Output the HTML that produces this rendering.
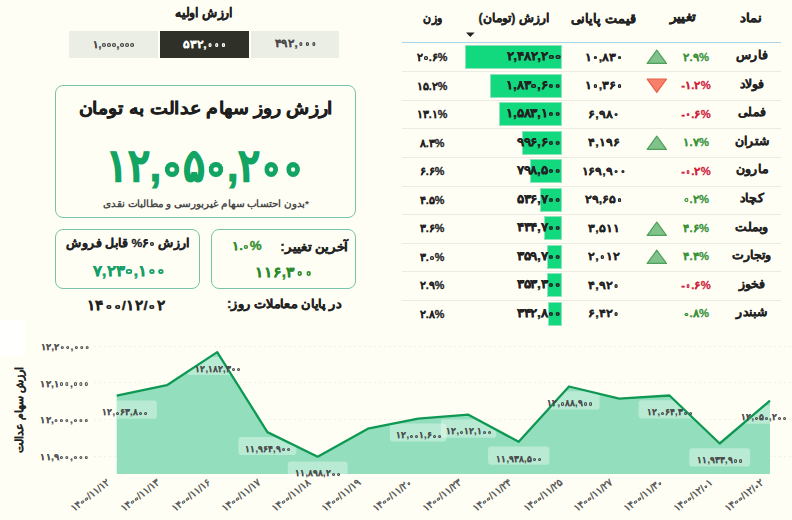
<!DOCTYPE html>
<html lang="fa"><head><meta charset="utf-8"><title>سهام عدالت</title>
<style>
*{margin:0;padding:0;box-sizing:border-box}
html,body{width:792px;height:520px;overflow:hidden;background:#fffef5;font-family:"Liberation Sans",sans-serif;color:#222}
.a{position:absolute}
.t{position:absolute;white-space:nowrap;text-align:center;transform-origin:50% 0}
.card{position:absolute;border:1px solid #77c4aa;border-radius:8px}
.z{-webkit-text-fill-color:transparent;-webkit-text-stroke-width:0;position:relative}
.z::after{content:"";position:absolute;left:50%;top:58%;width:.34em;height:.34em;margin-left:-.17em;margin-top:-.17em;box-shadow:inset 0 0 0 .115em currentColor;border-radius:50%}
</style></head>
<body>
<div class="a" style="left:0;top:320px;width:25px;height:36px;background:#fffffd"></div>
<div class="a" style="left:69px;top:31px;width:89px;height:27px;background:#eaeee5"></div>
<div class="a" style="left:160px;top:31px;width:89px;height:27px;background:#2f3128"></div>
<div class="a" style="left:251px;top:31px;width:88px;height:27px;background:#eaeee5"></div>
<div class="card" style="left:55px;top:85px;width:301px;height:133px"></div>
<div class="card" style="left:55px;top:229px;width:145px;height:60px"></div>
<div class="card" style="left:211px;top:229px;width:145px;height:60px"></div>
<div id="t_init" class="t" dir="rtl" style="left:3.74px;top:5.67px;width:400px;font-size:12.60px;line-height:15.75px;font-weight:bold;color:#222;-webkit-text-stroke:0.31px #222;transform:scaleX(0.9576)">ارزش اولیه</div>
<div id="t_s1" class="t" style="left:-85.55px;top:37.77px;width:400px;font-size:10.40px;line-height:13.00px;font-weight:bold;color:#4a4a4a;-webkit-text-stroke:0.26px #4a4a4a;transform:scaleX(1.0057)"><span style="letter-spacing:-0.215em">۱</span><span style="letter-spacing:-0.019em">,</span><span class="z" style="letter-spacing:-0.075em">۰</span><span class="z" style="letter-spacing:-0.075em">۰</span><span class="z" style="letter-spacing:-0.075em">۰</span><span style="letter-spacing:-0.019em">,</span><span class="z" style="letter-spacing:-0.075em">۰</span><span class="z" style="letter-spacing:-0.075em">۰</span><span class="z" style="letter-spacing:-0.075em">۰</span></div>
<div id="t_s2" class="t" style="left:5.41px;top:38.01px;width:400px;font-size:10.81px;line-height:13.52px;font-weight:bold;color:#fff;-webkit-text-stroke:0.27px #fff;transform:scaleX(1.1200)"><span style="letter-spacing:0.102em">۵</span><span style="letter-spacing:0.175em">۳</span><span style="letter-spacing:0.032em">۲</span><span style="letter-spacing:-0.019em">,</span><span class="z" style="letter-spacing:-0.075em">۰</span><span class="z" style="letter-spacing:-0.075em">۰</span><span class="z" style="letter-spacing:-0.075em">۰</span></div>
<div id="t_s3" class="t" style="left:95.60px;top:36.77px;width:400px;font-size:10.65px;line-height:13.31px;font-weight:bold;color:#4a4a4a;-webkit-text-stroke:0.27px #4a4a4a;transform:scaleX(1.0831)"><span style="letter-spacing:0.082em">۴</span><span style="letter-spacing:-0.015em">۹</span><span style="letter-spacing:0.032em">۲</span><span style="letter-spacing:-0.019em">,</span><span class="z" style="letter-spacing:-0.075em">۰</span><span class="z" style="letter-spacing:-0.075em">۰</span><span class="z" style="letter-spacing:-0.075em">۰</span></div>
<div id="t_title" class="t" dir="rtl" style="left:6.38px;top:97.71px;width:400px;font-size:17.18px;line-height:21.48px;font-weight:bold;color:#1e1e1e;-webkit-text-stroke:0.43px #1e1e1e;transform:scaleX(1.1152)">ارزش روز سهام عدالت به تومان</div>
<div id="t_big" class="t" style="left:5.19px;top:138.13px;width:400px;font-size:45.01px;line-height:56.26px;font-weight:bold;color:#12a463;-webkit-text-stroke:1.13px #12a463;transform:scaleX(0.9129)"><span style="letter-spacing:-0.215em">۱</span><span style="letter-spacing:0.032em">۲</span><span style="letter-spacing:-0.019em">,</span><span class="z" style="letter-spacing:-0.075em">۰</span><span style="letter-spacing:0.102em">۵</span><span class="z" style="letter-spacing:-0.075em">۰</span><span style="letter-spacing:-0.019em">,</span><span style="letter-spacing:0.032em">۲</span><span class="z" style="letter-spacing:-0.075em">۰</span><span class="z" style="letter-spacing:-0.075em">۰</span></div>
<div id="t_foot" class="t" dir="rtl" style="left:5.52px;top:197.94px;width:400px;font-size:9.60px;line-height:12.00px;font-weight:bold;color:#4a4a4a;-webkit-text-stroke:0.00px #4a4a4a;transform:scaleX(1.0413)">*بدون احتساب سهام غیربورسی و مطالبات نقدی</div>
<div id="t_c1title" class="t" dir="rtl" style="left:-71.80px;top:236.36px;width:400px;font-size:11.66px;line-height:14.58px;font-weight:bold;color:#222;-webkit-text-stroke:0.29px #222;transform:scaleX(1.0423)">ارزش <span style="letter-spacing:-0.006em">۶</span><span class="z" style="letter-spacing:-0.075em">۰</span><span style="letter-spacing:-0.111em">%</span> قابل فروش</div>
<div id="t_c1val" class="t" style="left:-71.40px;top:260.51px;width:400px;font-size:15.21px;line-height:19.01px;font-weight:bold;color:#169f69;-webkit-text-stroke:0.38px #169f69;transform:scaleX(1.1200)"><span style="letter-spacing:0.101em">۷</span><span style="letter-spacing:-0.019em">,</span><span style="letter-spacing:0.032em">۲</span><span style="letter-spacing:0.175em">۳</span><span class="z" style="letter-spacing:-0.075em">۰</span><span style="letter-spacing:-0.019em">,</span><span style="letter-spacing:-0.215em">۱</span><span class="z" style="letter-spacing:-0.075em">۰</span><span class="z" style="letter-spacing:-0.075em">۰</span></div>
<div id="t_c2title" class="t" dir="rtl" style="left:113.85px;top:239.86px;width:400px;font-size:12.08px;line-height:15.10px;font-weight:bold;color:#222;-webkit-text-stroke:0.30px #222;transform:scaleX(1.1200)">آخرین تغییر:</div>
<div id="t_c2pct" class="t" style="left:46.81px;top:239.34px;width:400px;font-size:11.93px;line-height:14.91px;font-weight:bold;color:#2e8f30;-webkit-text-stroke:0.30px #2e8f30;transform:scaleX(1.1200)"><span style="letter-spacing:-0.215em">۱</span><span style="letter-spacing:0.036em">.</span><span class="z" style="letter-spacing:-0.075em">۰</span><span style="letter-spacing:-0.111em">%</span></div>
<div id="t_c2val" class="t" style="left:83.93px;top:264.01px;width:400px;font-size:13.75px;line-height:17.19px;font-weight:bold;color:#2a8c2c;-webkit-text-stroke:0.34px #2a8c2c;transform:scaleX(1.1200)"><span style="letter-spacing:-0.215em">۱</span><span style="letter-spacing:-0.215em">۱</span><span style="letter-spacing:-0.006em">۶</span><span style="letter-spacing:-0.019em">,</span><span style="letter-spacing:0.175em">۳</span><span class="z" style="letter-spacing:-0.075em">۰</span><span class="z" style="letter-spacing:-0.075em">۰</span></div>
<div id="t_end" class="t" dir="rtl" style="left:83.62px;top:297.42px;width:400px;font-size:12.40px;line-height:15.50px;font-weight:bold;color:#222;-webkit-text-stroke:0.31px #222;transform:scaleX(1.0713)">در پایان معاملات روز:</div>
<div id="t_date" class="t" style="left:-73.79px;top:297.18px;width:400px;font-size:13.66px;line-height:17.08px;font-weight:bold;color:#222;-webkit-text-stroke:0.34px #222;transform:scaleX(1.1012)"><span style="letter-spacing:-0.215em">۱</span><span style="letter-spacing:0.082em">۴</span><span class="z" style="letter-spacing:-0.075em">۰</span><span class="z" style="letter-spacing:-0.075em">۰</span><span style="letter-spacing:0.113em">/</span><span style="letter-spacing:-0.215em">۱</span><span style="letter-spacing:0.032em">۲</span><span style="letter-spacing:0.113em">/</span><span class="z" style="letter-spacing:-0.075em">۰</span><span style="letter-spacing:0.032em">۲</span></div>
<div id="t_h1" class="t" dir="rtl" style="left:551.11px;top:10.55px;width:400px;font-size:12.40px;line-height:15.50px;font-weight:bold;color:#222;-webkit-text-stroke:0.31px #222;transform:scaleX(1.1189)">نماد</div>
<div id="t_h2" class="t" dir="rtl" style="left:483.15px;top:8.86px;width:400px;font-size:13.00px;line-height:16.25px;font-weight:bold;color:#222;-webkit-text-stroke:0.33px #222;transform:scaleX(1.0514)">تغییر</div>
<div id="t_h3" class="t" dir="rtl" style="left:403.46px;top:10.67px;width:400px;font-size:13.34px;line-height:16.67px;font-weight:bold;color:#222;-webkit-text-stroke:0.33px #222;transform:scaleX(0.9877)">قیمت پایانی</div>
<div id="t_h4" class="t" dir="rtl" style="left:313.61px;top:11.16px;width:400px;font-size:12.10px;line-height:15.13px;font-weight:bold;color:#222;-webkit-text-stroke:0.30px #222;transform:scaleX(1.0193)">ارزش (تومان)</div>
<div id="t_h5" class="t" dir="rtl" style="left:232.65px;top:11.40px;width:400px;font-size:11.84px;line-height:14.80px;font-weight:bold;color:#222;-webkit-text-stroke:0.30px #222;transform:scaleX(0.9060)">وزن</div>
<svg class="a" style="left:464px;top:31px" width="12" height="7"><path d="M2 1.5h8.6l-4.3 4.6z" fill="#222"/></svg>
<div class="a" style="left:402px;top:41.5px;width:379px;height:1.5px;background:#a9d4ea"></div>
<div class="a" style="left:464.50px;top:45.00px;width:97.30px;height:24px;background:#12d87e;border:1px solid #8fe3bd"></div>
<svg class="a" style="left:645px;top:49.40px" width="24" height="16"><path d="M2.2 14.4L11.8 1.2 21.4 14.4z" fill="#7fc28a" stroke="#4ea05a" stroke-width="1.2" stroke-linejoin="round"/></svg>
<div id="t_r_name" class="t" dir="rtl" style="left:551.56px;top:48.33px;width:400px;font-size:11.54px;line-height:14.42px;font-weight:bold;color:#222;-webkit-text-stroke:0.29px #222;transform:scaleX(1.0375)">فارس</div>
<div id="t_r_chg" class="t" style="left:495.91px;top:50.68px;width:400px;font-size:10.60px;line-height:13.25px;font-weight:bold;color:#3a923a;-webkit-text-stroke:0.26px #3a923a;transform:scaleX(1.0618)"><span style="letter-spacing:0.032em">۲</span><span style="letter-spacing:0.036em">.</span><span style="letter-spacing:-0.015em">۹</span><span style="letter-spacing:-0.111em">%</span></div>
<div id="t_r_price" class="t" style="left:403.62px;top:50.54px;width:400px;font-size:11.00px;line-height:13.75px;font-weight:bold;color:#222;-webkit-text-stroke:0.27px #222;transform:scaleX(1.1489)"><span style="letter-spacing:-0.215em">۱</span><span class="z" style="letter-spacing:-0.075em">۰</span><span style="letter-spacing:-0.019em">,</span><span style="letter-spacing:0.101em">۸</span><span style="letter-spacing:0.175em">۳</span><span class="z" style="letter-spacing:-0.075em">۰</span></div>
<div id="t_r_val" class="t" style="left:333.56px;top:49.00px;width:400px;font-size:12.49px;line-height:15.62px;font-weight:bold;color:#222;-webkit-text-stroke:0.31px #222;transform:scaleX(1.1200)"><span style="letter-spacing:0.032em">۲</span><span style="letter-spacing:-0.019em">,</span><span style="letter-spacing:0.082em">۴</span><span style="letter-spacing:0.101em">۸</span><span style="letter-spacing:0.032em">۲</span><span style="letter-spacing:-0.019em">,</span><span style="letter-spacing:0.032em">۲</span><span class="z" style="letter-spacing:-0.075em">۰</span><span class="z" style="letter-spacing:-0.075em">۰</span></div>
<div id="t_r_w" class="t" style="left:232.29px;top:51.03px;width:400px;font-size:10.80px;line-height:13.50px;font-weight:bold;color:#222;-webkit-text-stroke:0.27px #222;transform:scaleX(1.0050)"><span style="letter-spacing:0.032em">۲</span><span class="z" style="letter-spacing:-0.075em">۰</span><span style="letter-spacing:0.036em">.</span><span style="letter-spacing:-0.006em">۶</span><span style="letter-spacing:-0.111em">%</span></div>
<div class="a" style="left:402px;top:71.43px;width:379px;height:1px;background:#ecebe3"></div>
<div class="a" style="left:489.83px;top:73.53px;width:71.97px;height:24px;background:#12d87e;border:1px solid #8fe3bd"></div>
<svg class="a" style="left:645px;top:77.73px" width="24" height="16"><path d="M2.2 1.2L21.4 1.2 11.8 14.4z" fill="#f7806a" stroke="#e8604a" stroke-width="1.2" stroke-linejoin="round"/></svg>
<div class="t" dir="rtl" style="left:551.56px;top:76.86px;width:400px;font-size:11.54px;line-height:14.42px;font-weight:bold;color:#222;-webkit-text-stroke:0.29px #222;transform:scaleX(1.0375)">فولاد</div>
<div class="t" style="left:495.91px;top:79.21px;width:400px;font-size:10.60px;line-height:13.25px;font-weight:bold;color:#d01f3c;-webkit-text-stroke:0.26px #d01f3c;transform:scaleX(1.0618)">-<span style="letter-spacing:-0.215em">۱</span><span style="letter-spacing:0.036em">.</span><span style="letter-spacing:0.032em">۲</span><span style="letter-spacing:-0.111em">%</span></div>
<div class="t" style="left:403.62px;top:79.07px;width:400px;font-size:11.00px;line-height:13.75px;font-weight:bold;color:#222;-webkit-text-stroke:0.27px #222;transform:scaleX(1.1489)"><span style="letter-spacing:-0.215em">۱</span><span class="z" style="letter-spacing:-0.075em">۰</span><span style="letter-spacing:-0.019em">,</span><span style="letter-spacing:0.175em">۳</span><span style="letter-spacing:-0.006em">۶</span><span class="z" style="letter-spacing:-0.075em">۰</span></div>
<div class="t" style="left:161.00px;top:77.53px;width:400px;text-align:right;transform-origin:100% 0;font-size:12.49px;line-height:15.62px;font-weight:bold;color:#222;-webkit-text-stroke:0.31px #222;transform:scaleX(1.1200)"><span style="letter-spacing:-0.215em">۱</span><span style="letter-spacing:-0.019em">,</span><span style="letter-spacing:0.101em">۸</span><span style="letter-spacing:0.175em">۳</span><span class="z" style="letter-spacing:-0.075em">۰</span><span style="letter-spacing:-0.019em">,</span><span style="letter-spacing:-0.006em">۶</span><span class="z" style="letter-spacing:-0.075em">۰</span><span class="z" style="letter-spacing:-0.075em">۰</span></div>
<div class="t" style="left:232.29px;top:79.56px;width:400px;font-size:10.80px;line-height:13.50px;font-weight:bold;color:#222;-webkit-text-stroke:0.27px #222;transform:scaleX(1.0050)"><span style="letter-spacing:-0.215em">۱</span><span style="letter-spacing:0.102em">۵</span><span style="letter-spacing:0.036em">.</span><span style="letter-spacing:0.032em">۲</span><span style="letter-spacing:-0.111em">%</span></div>
<div class="a" style="left:402px;top:99.96px;width:379px;height:1px;background:#ecebe3"></div>
<div class="a" style="left:499.45px;top:102.06px;width:62.35px;height:24px;background:#12d87e;border:1px solid #8fe3bd"></div>
<div class="t" dir="rtl" style="left:551.56px;top:105.39px;width:400px;font-size:11.54px;line-height:14.42px;font-weight:bold;color:#222;-webkit-text-stroke:0.29px #222;transform:scaleX(1.0375)">فملی</div>
<div class="t" style="left:495.91px;top:107.74px;width:400px;font-size:10.60px;line-height:13.25px;font-weight:bold;color:#d01f3c;-webkit-text-stroke:0.26px #d01f3c;transform:scaleX(1.0618)">-<span class="z" style="letter-spacing:-0.075em">۰</span><span style="letter-spacing:0.036em">.</span><span style="letter-spacing:-0.006em">۶</span><span style="letter-spacing:-0.111em">%</span></div>
<div class="t" style="left:403.62px;top:107.60px;width:400px;font-size:11.00px;line-height:13.75px;font-weight:bold;color:#222;-webkit-text-stroke:0.27px #222;transform:scaleX(1.1489)"><span style="letter-spacing:-0.006em">۶</span><span style="letter-spacing:-0.019em">,</span><span style="letter-spacing:-0.015em">۹</span><span style="letter-spacing:0.101em">۸</span><span class="z" style="letter-spacing:-0.075em">۰</span></div>
<div class="t" style="left:161.00px;top:106.06px;width:400px;text-align:right;transform-origin:100% 0;font-size:12.49px;line-height:15.62px;font-weight:bold;color:#222;-webkit-text-stroke:0.31px #222;transform:scaleX(1.1200)"><span style="letter-spacing:-0.215em">۱</span><span style="letter-spacing:-0.019em">,</span><span style="letter-spacing:0.102em">۵</span><span style="letter-spacing:0.101em">۸</span><span style="letter-spacing:0.175em">۳</span><span style="letter-spacing:-0.019em">,</span><span style="letter-spacing:-0.215em">۱</span><span class="z" style="letter-spacing:-0.075em">۰</span><span class="z" style="letter-spacing:-0.075em">۰</span></div>
<div class="t" style="left:232.29px;top:108.09px;width:400px;font-size:10.80px;line-height:13.50px;font-weight:bold;color:#222;-webkit-text-stroke:0.27px #222;transform:scaleX(1.0050)"><span style="letter-spacing:-0.215em">۱</span><span style="letter-spacing:0.175em">۳</span><span style="letter-spacing:0.036em">.</span><span style="letter-spacing:-0.215em">۱</span><span style="letter-spacing:-0.111em">%</span></div>
<div class="a" style="left:402px;top:128.49px;width:379px;height:1px;background:#ecebe3"></div>
<div class="a" style="left:522.26px;top:130.59px;width:39.54px;height:24px;background:#12d87e;border:1px solid #8fe3bd"></div>
<svg class="a" style="left:645px;top:134.99px" width="24" height="16"><path d="M2.2 14.4L11.8 1.2 21.4 14.4z" fill="#7fc28a" stroke="#4ea05a" stroke-width="1.2" stroke-linejoin="round"/></svg>
<div class="t" dir="rtl" style="left:551.56px;top:133.92px;width:400px;font-size:11.54px;line-height:14.42px;font-weight:bold;color:#222;-webkit-text-stroke:0.29px #222;transform:scaleX(1.0375)">شتران</div>
<div class="t" style="left:495.91px;top:136.27px;width:400px;font-size:10.60px;line-height:13.25px;font-weight:bold;color:#3a923a;-webkit-text-stroke:0.26px #3a923a;transform:scaleX(1.0618)"><span style="letter-spacing:-0.215em">۱</span><span style="letter-spacing:0.036em">.</span><span style="letter-spacing:0.101em">۷</span><span style="letter-spacing:-0.111em">%</span></div>
<div class="t" style="left:403.62px;top:136.13px;width:400px;font-size:11.00px;line-height:13.75px;font-weight:bold;color:#222;-webkit-text-stroke:0.27px #222;transform:scaleX(1.1489)"><span style="letter-spacing:0.082em">۴</span><span style="letter-spacing:-0.019em">,</span><span style="letter-spacing:-0.215em">۱</span><span style="letter-spacing:-0.015em">۹</span><span style="letter-spacing:-0.006em">۶</span></div>
<div class="t" style="left:161.00px;top:134.59px;width:400px;text-align:right;transform-origin:100% 0;font-size:12.49px;line-height:15.62px;font-weight:bold;color:#222;-webkit-text-stroke:0.31px #222;transform:scaleX(1.1200)"><span style="letter-spacing:-0.015em">۹</span><span style="letter-spacing:-0.015em">۹</span><span style="letter-spacing:-0.006em">۶</span><span style="letter-spacing:-0.019em">,</span><span style="letter-spacing:-0.006em">۶</span><span class="z" style="letter-spacing:-0.075em">۰</span><span class="z" style="letter-spacing:-0.075em">۰</span></div>
<div class="t" style="left:232.29px;top:136.62px;width:400px;font-size:10.80px;line-height:13.50px;font-weight:bold;color:#222;-webkit-text-stroke:0.27px #222;transform:scaleX(1.0050)"><span style="letter-spacing:0.101em">۸</span><span style="letter-spacing:0.036em">.</span><span style="letter-spacing:0.175em">۳</span><span style="letter-spacing:-0.111em">%</span></div>
<div class="a" style="left:402px;top:157.02px;width:379px;height:1px;background:#ecebe3"></div>
<div class="a" style="left:529.96px;top:159.12px;width:31.84px;height:24px;background:#12d87e;border:1px solid #8fe3bd"></div>
<div class="t" dir="rtl" style="left:551.56px;top:162.45px;width:400px;font-size:11.54px;line-height:14.42px;font-weight:bold;color:#222;-webkit-text-stroke:0.29px #222;transform:scaleX(1.0375)">مارون</div>
<div class="t" style="left:495.91px;top:164.80px;width:400px;font-size:10.60px;line-height:13.25px;font-weight:bold;color:#d01f3c;-webkit-text-stroke:0.26px #d01f3c;transform:scaleX(1.0618)">-<span class="z" style="letter-spacing:-0.075em">۰</span><span style="letter-spacing:0.036em">.</span><span style="letter-spacing:0.032em">۲</span><span style="letter-spacing:-0.111em">%</span></div>
<div class="t" style="left:403.62px;top:164.66px;width:400px;font-size:11.00px;line-height:13.75px;font-weight:bold;color:#222;-webkit-text-stroke:0.27px #222;transform:scaleX(1.1489)"><span style="letter-spacing:-0.215em">۱</span><span style="letter-spacing:-0.006em">۶</span><span style="letter-spacing:-0.015em">۹</span><span style="letter-spacing:-0.019em">,</span><span style="letter-spacing:-0.015em">۹</span><span class="z" style="letter-spacing:-0.075em">۰</span><span class="z" style="letter-spacing:-0.075em">۰</span></div>
<div class="t" style="left:161.00px;top:163.12px;width:400px;text-align:right;transform-origin:100% 0;font-size:12.49px;line-height:15.62px;font-weight:bold;color:#222;-webkit-text-stroke:0.31px #222;transform:scaleX(1.1200)"><span style="letter-spacing:0.101em">۷</span><span style="letter-spacing:-0.015em">۹</span><span style="letter-spacing:0.101em">۸</span><span style="letter-spacing:-0.019em">,</span><span style="letter-spacing:0.102em">۵</span><span class="z" style="letter-spacing:-0.075em">۰</span><span class="z" style="letter-spacing:-0.075em">۰</span></div>
<div class="t" style="left:232.29px;top:165.15px;width:400px;font-size:10.80px;line-height:13.50px;font-weight:bold;color:#222;-webkit-text-stroke:0.27px #222;transform:scaleX(1.0050)"><span style="letter-spacing:-0.006em">۶</span><span style="letter-spacing:0.036em">.</span><span style="letter-spacing:-0.006em">۶</span><span style="letter-spacing:-0.111em">%</span></div>
<div class="a" style="left:402px;top:185.55px;width:379px;height:1px;background:#ecebe3"></div>
<div class="a" style="left:540.13px;top:187.65px;width:21.67px;height:24px;background:#12d87e;border:1px solid #8fe3bd"></div>
<div class="t" dir="rtl" style="left:551.56px;top:190.98px;width:400px;font-size:11.54px;line-height:14.42px;font-weight:bold;color:#222;-webkit-text-stroke:0.29px #222;transform:scaleX(1.0375)">کچاد</div>
<div class="t" style="left:495.91px;top:193.33px;width:400px;font-size:10.60px;line-height:13.25px;font-weight:bold;color:#3a923a;-webkit-text-stroke:0.26px #3a923a;transform:scaleX(1.0618)"><span class="z" style="letter-spacing:-0.075em">۰</span><span style="letter-spacing:0.036em">.</span><span style="letter-spacing:0.032em">۲</span><span style="letter-spacing:-0.111em">%</span></div>
<div class="t" style="left:403.62px;top:193.19px;width:400px;font-size:11.00px;line-height:13.75px;font-weight:bold;color:#222;-webkit-text-stroke:0.27px #222;transform:scaleX(1.1489)"><span style="letter-spacing:0.032em">۲</span><span style="letter-spacing:-0.015em">۹</span><span style="letter-spacing:-0.019em">,</span><span style="letter-spacing:-0.006em">۶</span><span style="letter-spacing:0.102em">۵</span><span class="z" style="letter-spacing:-0.075em">۰</span></div>
<div class="t" style="left:161.00px;top:191.65px;width:400px;text-align:right;transform-origin:100% 0;font-size:12.49px;line-height:15.62px;font-weight:bold;color:#222;-webkit-text-stroke:0.31px #222;transform:scaleX(1.1200)"><span style="letter-spacing:0.102em">۵</span><span style="letter-spacing:0.175em">۳</span><span style="letter-spacing:-0.006em">۶</span><span style="letter-spacing:-0.019em">,</span><span style="letter-spacing:0.101em">۷</span><span class="z" style="letter-spacing:-0.075em">۰</span><span class="z" style="letter-spacing:-0.075em">۰</span></div>
<div class="t" style="left:232.29px;top:193.68px;width:400px;font-size:10.80px;line-height:13.50px;font-weight:bold;color:#222;-webkit-text-stroke:0.27px #222;transform:scaleX(1.0050)"><span style="letter-spacing:0.082em">۴</span><span style="letter-spacing:0.036em">.</span><span style="letter-spacing:0.102em">۵</span><span style="letter-spacing:-0.111em">%</span></div>
<div class="a" style="left:402px;top:214.08px;width:379px;height:1px;background:#ecebe3"></div>
<div class="a" style="left:544.10px;top:216.18px;width:17.70px;height:24px;background:#12d87e;border:1px solid #8fe3bd"></div>
<svg class="a" style="left:645px;top:220.58px" width="24" height="16"><path d="M2.2 14.4L11.8 1.2 21.4 14.4z" fill="#7fc28a" stroke="#4ea05a" stroke-width="1.2" stroke-linejoin="round"/></svg>
<div class="t" dir="rtl" style="left:551.56px;top:219.51px;width:400px;font-size:11.54px;line-height:14.42px;font-weight:bold;color:#222;-webkit-text-stroke:0.29px #222;transform:scaleX(1.0375)">وبملت</div>
<div class="t" style="left:495.91px;top:221.86px;width:400px;font-size:10.60px;line-height:13.25px;font-weight:bold;color:#3a923a;-webkit-text-stroke:0.26px #3a923a;transform:scaleX(1.0618)"><span style="letter-spacing:0.082em">۴</span><span style="letter-spacing:0.036em">.</span><span style="letter-spacing:-0.006em">۶</span><span style="letter-spacing:-0.111em">%</span></div>
<div class="t" style="left:403.62px;top:221.72px;width:400px;font-size:11.00px;line-height:13.75px;font-weight:bold;color:#222;-webkit-text-stroke:0.27px #222;transform:scaleX(1.1489)"><span style="letter-spacing:0.175em">۳</span><span style="letter-spacing:-0.019em">,</span><span style="letter-spacing:0.102em">۵</span><span style="letter-spacing:-0.215em">۱</span><span style="letter-spacing:-0.215em">۱</span></div>
<div class="t" style="left:161.00px;top:220.18px;width:400px;text-align:right;transform-origin:100% 0;font-size:12.49px;line-height:15.62px;font-weight:bold;color:#222;-webkit-text-stroke:0.31px #222;transform:scaleX(1.1200)"><span style="letter-spacing:0.082em">۴</span><span style="letter-spacing:0.175em">۳</span><span style="letter-spacing:0.082em">۴</span><span style="letter-spacing:-0.019em">,</span><span style="letter-spacing:0.101em">۷</span><span class="z" style="letter-spacing:-0.075em">۰</span><span class="z" style="letter-spacing:-0.075em">۰</span></div>
<div class="t" style="left:232.29px;top:222.21px;width:400px;font-size:10.80px;line-height:13.50px;font-weight:bold;color:#222;-webkit-text-stroke:0.27px #222;transform:scaleX(1.0050)"><span style="letter-spacing:0.175em">۳</span><span style="letter-spacing:0.036em">.</span><span style="letter-spacing:-0.006em">۶</span><span style="letter-spacing:-0.111em">%</span></div>
<div class="a" style="left:402px;top:242.61px;width:379px;height:1px;background:#ecebe3"></div>
<div class="a" style="left:547.02px;top:244.71px;width:14.78px;height:24px;background:#12d87e;border:1px solid #8fe3bd"></div>
<svg class="a" style="left:645px;top:249.11px" width="24" height="16"><path d="M2.2 14.4L11.8 1.2 21.4 14.4z" fill="#7fc28a" stroke="#4ea05a" stroke-width="1.2" stroke-linejoin="round"/></svg>
<div class="t" dir="rtl" style="left:551.56px;top:248.04px;width:400px;font-size:11.54px;line-height:14.42px;font-weight:bold;color:#222;-webkit-text-stroke:0.29px #222;transform:scaleX(1.0375)">وتجارت</div>
<div class="t" style="left:495.91px;top:250.39px;width:400px;font-size:10.60px;line-height:13.25px;font-weight:bold;color:#3a923a;-webkit-text-stroke:0.26px #3a923a;transform:scaleX(1.0618)"><span style="letter-spacing:0.082em">۴</span><span style="letter-spacing:0.036em">.</span><span style="letter-spacing:0.082em">۴</span><span style="letter-spacing:-0.111em">%</span></div>
<div class="t" style="left:403.62px;top:250.25px;width:400px;font-size:11.00px;line-height:13.75px;font-weight:bold;color:#222;-webkit-text-stroke:0.27px #222;transform:scaleX(1.1489)"><span style="letter-spacing:0.032em">۲</span><span style="letter-spacing:-0.019em">,</span><span class="z" style="letter-spacing:-0.075em">۰</span><span style="letter-spacing:-0.215em">۱</span><span style="letter-spacing:0.032em">۲</span></div>
<div class="t" style="left:161.00px;top:248.71px;width:400px;text-align:right;transform-origin:100% 0;font-size:12.49px;line-height:15.62px;font-weight:bold;color:#222;-webkit-text-stroke:0.31px #222;transform:scaleX(1.1200)"><span style="letter-spacing:0.175em">۳</span><span style="letter-spacing:0.102em">۵</span><span style="letter-spacing:-0.015em">۹</span><span style="letter-spacing:-0.019em">,</span><span style="letter-spacing:0.101em">۷</span><span class="z" style="letter-spacing:-0.075em">۰</span><span class="z" style="letter-spacing:-0.075em">۰</span></div>
<div class="t" style="left:232.29px;top:250.74px;width:400px;font-size:10.80px;line-height:13.50px;font-weight:bold;color:#222;-webkit-text-stroke:0.27px #222;transform:scaleX(1.0050)"><span style="letter-spacing:0.175em">۳</span><span style="letter-spacing:0.036em">.</span><span class="z" style="letter-spacing:-0.075em">۰</span><span style="letter-spacing:-0.111em">%</span></div>
<div class="a" style="left:402px;top:271.14px;width:379px;height:1px;background:#ecebe3"></div>
<div class="a" style="left:547.26px;top:273.24px;width:14.54px;height:24px;background:#12d87e;border:1px solid #8fe3bd"></div>
<div class="t" dir="rtl" style="left:551.56px;top:276.57px;width:400px;font-size:11.54px;line-height:14.42px;font-weight:bold;color:#222;-webkit-text-stroke:0.29px #222;transform:scaleX(1.0375)">فخوز</div>
<div class="t" style="left:495.91px;top:278.92px;width:400px;font-size:10.60px;line-height:13.25px;font-weight:bold;color:#d01f3c;-webkit-text-stroke:0.26px #d01f3c;transform:scaleX(1.0618)">-<span class="z" style="letter-spacing:-0.075em">۰</span><span style="letter-spacing:0.036em">.</span><span style="letter-spacing:-0.006em">۶</span><span style="letter-spacing:-0.111em">%</span></div>
<div class="t" style="left:403.62px;top:278.78px;width:400px;font-size:11.00px;line-height:13.75px;font-weight:bold;color:#222;-webkit-text-stroke:0.27px #222;transform:scaleX(1.1489)"><span style="letter-spacing:0.082em">۴</span><span style="letter-spacing:-0.019em">,</span><span style="letter-spacing:-0.015em">۹</span><span style="letter-spacing:0.032em">۲</span><span class="z" style="letter-spacing:-0.075em">۰</span></div>
<div class="t" style="left:161.00px;top:277.24px;width:400px;text-align:right;transform-origin:100% 0;font-size:12.49px;line-height:15.62px;font-weight:bold;color:#222;-webkit-text-stroke:0.31px #222;transform:scaleX(1.1200)"><span style="letter-spacing:0.175em">۳</span><span style="letter-spacing:0.102em">۵</span><span style="letter-spacing:0.175em">۳</span><span style="letter-spacing:-0.019em">,</span><span style="letter-spacing:0.175em">۳</span><span class="z" style="letter-spacing:-0.075em">۰</span><span class="z" style="letter-spacing:-0.075em">۰</span></div>
<div class="t" style="left:232.29px;top:279.27px;width:400px;font-size:10.80px;line-height:13.50px;font-weight:bold;color:#222;-webkit-text-stroke:0.27px #222;transform:scaleX(1.0050)"><span style="letter-spacing:0.032em">۲</span><span style="letter-spacing:0.036em">.</span><span style="letter-spacing:-0.015em">۹</span><span style="letter-spacing:-0.111em">%</span></div>
<div class="a" style="left:402px;top:299.67px;width:379px;height:1px;background:#ecebe3"></div>
<div class="a" style="left:547.67px;top:301.77px;width:14.13px;height:24px;background:#12d87e;border:1px solid #8fe3bd"></div>
<div class="t" dir="rtl" style="left:551.56px;top:305.10px;width:400px;font-size:11.54px;line-height:14.42px;font-weight:bold;color:#222;-webkit-text-stroke:0.29px #222;transform:scaleX(1.0375)">شبندر</div>
<div class="t" style="left:495.91px;top:307.45px;width:400px;font-size:10.60px;line-height:13.25px;font-weight:bold;color:#3a923a;-webkit-text-stroke:0.26px #3a923a;transform:scaleX(1.0618)"><span class="z" style="letter-spacing:-0.075em">۰</span><span style="letter-spacing:0.036em">.</span><span style="letter-spacing:0.101em">۸</span><span style="letter-spacing:-0.111em">%</span></div>
<div class="t" style="left:403.62px;top:307.31px;width:400px;font-size:11.00px;line-height:13.75px;font-weight:bold;color:#222;-webkit-text-stroke:0.27px #222;transform:scaleX(1.1489)"><span style="letter-spacing:-0.006em">۶</span><span style="letter-spacing:-0.019em">,</span><span style="letter-spacing:0.082em">۴</span><span style="letter-spacing:0.032em">۲</span><span class="z" style="letter-spacing:-0.075em">۰</span></div>
<div class="t" style="left:161.00px;top:305.77px;width:400px;text-align:right;transform-origin:100% 0;font-size:12.49px;line-height:15.62px;font-weight:bold;color:#222;-webkit-text-stroke:0.31px #222;transform:scaleX(1.1200)"><span style="letter-spacing:0.175em">۳</span><span style="letter-spacing:0.082em">۴</span><span style="letter-spacing:0.032em">۲</span><span style="letter-spacing:-0.019em">,</span><span style="letter-spacing:0.101em">۸</span><span class="z" style="letter-spacing:-0.075em">۰</span><span class="z" style="letter-spacing:-0.075em">۰</span></div>
<div class="t" style="left:232.29px;top:307.80px;width:400px;font-size:10.80px;line-height:13.50px;font-weight:bold;color:#222;-webkit-text-stroke:0.27px #222;transform:scaleX(1.0050)"><span style="letter-spacing:0.032em">۲</span><span style="letter-spacing:0.036em">.</span><span style="letter-spacing:0.101em">۸</span><span style="letter-spacing:-0.111em">%</span></div>
<svg class="a" style="left:0;top:0" width="792" height="520">
<line x1="94" x2="792" y1="346.5" y2="346.5" stroke="#f2f1e7" stroke-width="1" stroke-dasharray="2 3"/>
<line x1="94" x2="792" y1="382.5" y2="382.5" stroke="#f2f1e7" stroke-width="1" stroke-dasharray="2 3"/>
<line x1="94" x2="792" y1="419.5" y2="419.5" stroke="#f2f1e7" stroke-width="1" stroke-dasharray="2 3"/>
<line x1="94" x2="792" y1="456.5" y2="456.5" stroke="#f2f1e7" stroke-width="1" stroke-dasharray="2 3"/>
<polygon points="116.7,474 116.7,395.7 166.9,385.2 217.2,352.1 267.4,432.1 317.7,456.7 367.9,428.7 418.2,418.6 468.4,414.7 518.7,441.8 569.0,386.5 619.2,398.6 669.5,395.5 719.7,443.5 770.0,400.7 770.0,474" fill="#93dfbd"/>
<clipPath id="fc2"><polygon points="116.7,474 116.7,395.7 166.9,385.2 217.2,352.1 267.4,432.1 317.7,456.7 367.9,428.7 418.2,418.6 468.4,414.7 518.7,441.8 569.0,386.5 619.2,398.6 669.5,395.5 719.7,443.5 770.0,400.7 770.0,474"/></clipPath>
<g clip-path="url(#fc2)">
<line x1="94" x2="792" y1="346.5" y2="346.5" stroke="#97e0bf" stroke-width="1" stroke-dasharray="2 3"/>
<line x1="94" x2="792" y1="382.5" y2="382.5" stroke="#97e0bf" stroke-width="1" stroke-dasharray="2 3"/>
<line x1="94" x2="792" y1="419.5" y2="419.5" stroke="#97e0bf" stroke-width="1" stroke-dasharray="2 3"/>
<line x1="94" x2="792" y1="456.5" y2="456.5" stroke="#97e0bf" stroke-width="1" stroke-dasharray="2 3"/>
</g>
<clipPath id="fillclip"><polygon points="116.7,474 116.7,395.7 166.9,385.2 217.2,352.1 267.4,432.1 317.7,456.7 367.9,428.7 418.2,418.6 468.4,414.7 518.7,441.8 569.0,386.5 619.2,398.6 669.5,395.5 719.7,443.5 770.0,400.7 770.0,474"/></clipPath>
<g clip-path="url(#fillclip)">
<rect x="95.0" y="400.5" width="61.9" height="18.2" rx="3" fill="#ffffff" fill-opacity="0.35"/>
<rect x="186.7" y="356.9" width="61.0" height="18.2" rx="3" fill="#ffffff" fill-opacity="0.35"/>
<rect x="238.4" y="436.9" width="58.1" height="18.2" rx="3" fill="#ffffff" fill-opacity="0.35"/>
<rect x="287.8" y="461.5" width="59.8" height="18.2" rx="3" fill="#ffffff" fill-opacity="0.35"/>
<rect x="389.9" y="423.4" width="56.5" height="18.2" rx="3" fill="#ffffff" fill-opacity="0.35"/>
<rect x="440.7" y="419.5" width="55.5" height="18.2" rx="3" fill="#ffffff" fill-opacity="0.35"/>
<rect x="488.1" y="446.6" width="61.2" height="18.2" rx="3" fill="#ffffff" fill-opacity="0.35"/>
<rect x="538.4" y="391.3" width="61.2" height="18.2" rx="3" fill="#ffffff" fill-opacity="0.35"/>
<rect x="638.6" y="400.3" width="61.8" height="18.2" rx="3" fill="#ffffff" fill-opacity="0.35"/>
<rect x="689.3" y="448.3" width="60.8" height="18.2" rx="3" fill="#ffffff" fill-opacity="0.35"/>
<rect x="733.0" y="405.5" width="59.9" height="18.2" rx="3" fill="#ffffff" fill-opacity="0.35"/>
</g>
<polyline points="116.7,395.7 166.9,385.2 217.2,352.1 267.4,432.1 317.7,456.7 367.9,428.7 418.2,418.6 468.4,414.7 518.7,441.8 569.0,386.5 619.2,398.6 669.5,395.5 719.7,443.5 770.0,400.7" fill="none" stroke="#0e9853" stroke-width="2.3" stroke-linejoin="round"/>
<text transform="translate(23 410.3) rotate(-90)" text-anchor="middle" font-size="11.4" font-weight="bold" fill="#222" stroke="#222" stroke-width="0.1" direction="rtl">ارزش سهام عدالت</text>
</svg>
<div class="t" style="left:-74.56px;top:407.46px;width:400px;font-size:9.20px;line-height:11.50px;font-weight:bold;color:#4a4a4a;-webkit-text-stroke:0.14px #4a4a4a;transform:scaleX(1.0017)"><span style="letter-spacing:-0.215em">۱</span><span style="letter-spacing:0.032em">۲</span><span style="letter-spacing:-0.019em">,</span><span class="z" style="letter-spacing:-0.075em">۰</span><span style="letter-spacing:-0.006em">۶</span><span style="letter-spacing:0.175em">۳</span><span style="letter-spacing:-0.019em">,</span><span style="letter-spacing:0.101em">۸</span><span class="z" style="letter-spacing:-0.075em">۰</span><span class="z" style="letter-spacing:-0.075em">۰</span></div>
<div class="t" style="left:17.84px;top:363.85px;width:400px;font-size:9.20px;line-height:11.50px;font-weight:bold;color:#4a4a4a;-webkit-text-stroke:0.14px #4a4a4a;transform:scaleX(1.0017)"><span style="letter-spacing:-0.215em">۱</span><span style="letter-spacing:0.032em">۲</span><span style="letter-spacing:-0.019em">,</span><span style="letter-spacing:-0.215em">۱</span><span style="letter-spacing:0.101em">۸</span><span style="letter-spacing:0.032em">۲</span><span style="letter-spacing:-0.019em">,</span><span style="letter-spacing:0.175em">۳</span><span class="z" style="letter-spacing:-0.075em">۰</span><span class="z" style="letter-spacing:-0.075em">۰</span></div>
<div class="t" style="left:68.09px;top:443.85px;width:400px;font-size:9.20px;line-height:11.50px;font-weight:bold;color:#4a4a4a;-webkit-text-stroke:0.14px #4a4a4a;transform:scaleX(1.0017)"><span style="letter-spacing:-0.215em">۱</span><span style="letter-spacing:-0.215em">۱</span><span style="letter-spacing:-0.019em">,</span><span style="letter-spacing:-0.015em">۹</span><span style="letter-spacing:-0.006em">۶</span><span style="letter-spacing:0.082em">۴</span><span style="letter-spacing:-0.019em">,</span><span style="letter-spacing:-0.015em">۹</span><span class="z" style="letter-spacing:-0.075em">۰</span><span class="z" style="letter-spacing:-0.075em">۰</span></div>
<div class="t" style="left:118.34px;top:468.40px;width:400px;font-size:9.20px;line-height:11.50px;font-weight:bold;color:#4a4a4a;-webkit-text-stroke:0.14px #4a4a4a;transform:scaleX(1.0017)"><span style="letter-spacing:-0.215em">۱</span><span style="letter-spacing:-0.215em">۱</span><span style="letter-spacing:-0.019em">,</span><span style="letter-spacing:0.101em">۸</span><span style="letter-spacing:-0.015em">۹</span><span style="letter-spacing:0.101em">۸</span><span style="letter-spacing:-0.019em">,</span><span style="letter-spacing:0.032em">۲</span><span class="z" style="letter-spacing:-0.075em">۰</span><span class="z" style="letter-spacing:-0.075em">۰</span></div>
<div class="t" style="left:218.84px;top:430.35px;width:400px;font-size:9.20px;line-height:11.50px;font-weight:bold;color:#4a4a4a;-webkit-text-stroke:0.14px #4a4a4a;transform:scaleX(1.0017)"><span style="letter-spacing:-0.215em">۱</span><span style="letter-spacing:0.032em">۲</span><span style="letter-spacing:-0.019em">,</span><span class="z" style="letter-spacing:-0.075em">۰</span><span class="z" style="letter-spacing:-0.075em">۰</span><span style="letter-spacing:-0.215em">۱</span><span style="letter-spacing:-0.019em">,</span><span style="letter-spacing:-0.006em">۶</span><span class="z" style="letter-spacing:-0.075em">۰</span><span class="z" style="letter-spacing:-0.075em">۰</span></div>
<div class="t" style="left:269.09px;top:426.48px;width:400px;font-size:9.20px;line-height:11.50px;font-weight:bold;color:#4a4a4a;-webkit-text-stroke:0.14px #4a4a4a;transform:scaleX(1.0017)"><span style="letter-spacing:-0.215em">۱</span><span style="letter-spacing:0.032em">۲</span><span style="letter-spacing:-0.019em">,</span><span class="z" style="letter-spacing:-0.075em">۰</span><span style="letter-spacing:-0.215em">۱</span><span style="letter-spacing:0.032em">۲</span><span style="letter-spacing:-0.019em">,</span><span style="letter-spacing:-0.215em">۱</span><span class="z" style="letter-spacing:-0.075em">۰</span><span class="z" style="letter-spacing:-0.075em">۰</span></div>
<div id="t_dl" class="t" style="left:319.34px;top:453.57px;width:400px;font-size:9.20px;line-height:11.50px;font-weight:bold;color:#4a4a4a;-webkit-text-stroke:0.14px #4a4a4a;transform:scaleX(1.0017)"><span style="letter-spacing:-0.215em">۱</span><span style="letter-spacing:-0.215em">۱</span><span style="letter-spacing:-0.019em">,</span><span style="letter-spacing:-0.015em">۹</span><span style="letter-spacing:0.175em">۳</span><span style="letter-spacing:0.101em">۸</span><span style="letter-spacing:-0.019em">,</span><span style="letter-spacing:0.102em">۵</span><span class="z" style="letter-spacing:-0.075em">۰</span><span class="z" style="letter-spacing:-0.075em">۰</span></div>
<div class="t" style="left:369.59px;top:398.22px;width:400px;font-size:9.20px;line-height:11.50px;font-weight:bold;color:#4a4a4a;-webkit-text-stroke:0.14px #4a4a4a;transform:scaleX(1.0017)"><span style="letter-spacing:-0.215em">۱</span><span style="letter-spacing:0.032em">۲</span><span style="letter-spacing:-0.019em">,</span><span class="z" style="letter-spacing:-0.075em">۰</span><span style="letter-spacing:0.101em">۸</span><span style="letter-spacing:0.101em">۸</span><span style="letter-spacing:-0.019em">,</span><span style="letter-spacing:-0.015em">۹</span><span class="z" style="letter-spacing:-0.075em">۰</span><span class="z" style="letter-spacing:-0.075em">۰</span></div>
<div class="t" style="left:470.09px;top:407.28px;width:400px;font-size:9.20px;line-height:11.50px;font-weight:bold;color:#4a4a4a;-webkit-text-stroke:0.14px #4a4a4a;transform:scaleX(1.0017)"><span style="letter-spacing:-0.215em">۱</span><span style="letter-spacing:0.032em">۲</span><span style="letter-spacing:-0.019em">,</span><span class="z" style="letter-spacing:-0.075em">۰</span><span style="letter-spacing:-0.006em">۶</span><span style="letter-spacing:0.082em">۴</span><span style="letter-spacing:-0.019em">,</span><span style="letter-spacing:0.175em">۳</span><span class="z" style="letter-spacing:-0.075em">۰</span><span class="z" style="letter-spacing:-0.075em">۰</span></div>
<div class="t" style="left:520.34px;top:455.26px;width:400px;font-size:9.20px;line-height:11.50px;font-weight:bold;color:#4a4a4a;-webkit-text-stroke:0.14px #4a4a4a;transform:scaleX(1.0017)"><span style="letter-spacing:-0.215em">۱</span><span style="letter-spacing:-0.215em">۱</span><span style="letter-spacing:-0.019em">,</span><span style="letter-spacing:-0.015em">۹</span><span style="letter-spacing:0.175em">۳</span><span style="letter-spacing:0.175em">۳</span><span style="letter-spacing:-0.019em">,</span><span style="letter-spacing:-0.015em">۹</span><span class="z" style="letter-spacing:-0.075em">۰</span><span class="z" style="letter-spacing:-0.075em">۰</span></div>
<div class="t" style="left:563.64px;top:412.46px;width:400px;font-size:9.20px;line-height:11.50px;font-weight:bold;color:#4a4a4a;-webkit-text-stroke:0.14px #4a4a4a;transform:scaleX(1.0017)"><span style="letter-spacing:-0.215em">۱</span><span style="letter-spacing:0.032em">۲</span><span style="letter-spacing:-0.019em">,</span><span class="z" style="letter-spacing:-0.075em">۰</span><span style="letter-spacing:0.102em">۵</span><span class="z" style="letter-spacing:-0.075em">۰</span><span style="letter-spacing:-0.019em">,</span><span style="letter-spacing:0.032em">۲</span><span class="z" style="letter-spacing:-0.075em">۰</span><span class="z" style="letter-spacing:-0.075em">۰</span></div>
<div id="t_y1" class="t" style="left:-134.99px;top:340.80px;width:400px;font-size:9.40px;line-height:11.75px;font-weight:bold;color:#555;-webkit-text-stroke:0.24px #555;transform:scaleX(1.0815)"><span style="letter-spacing:-0.215em">۱</span><span style="letter-spacing:0.032em">۲</span><span style="letter-spacing:-0.019em">,</span><span style="letter-spacing:0.032em">۲</span><span class="z" style="letter-spacing:-0.075em">۰</span><span class="z" style="letter-spacing:-0.075em">۰</span><span style="letter-spacing:-0.019em">,</span><span class="z" style="letter-spacing:-0.075em">۰</span><span class="z" style="letter-spacing:-0.075em">۰</span><span class="z" style="letter-spacing:-0.075em">۰</span></div>
<div class="t" style="left:-311.00px;top:377.60px;width:400px;text-align:right;transform-origin:100% 0;font-size:9.40px;line-height:11.75px;font-weight:bold;color:#555;-webkit-text-stroke:0.24px #555;transform:scaleX(1.0815)"><span style="letter-spacing:-0.215em">۱</span><span style="letter-spacing:0.032em">۲</span><span style="letter-spacing:-0.019em">,</span><span style="letter-spacing:-0.215em">۱</span><span class="z" style="letter-spacing:-0.075em">۰</span><span class="z" style="letter-spacing:-0.075em">۰</span><span style="letter-spacing:-0.019em">,</span><span class="z" style="letter-spacing:-0.075em">۰</span><span class="z" style="letter-spacing:-0.075em">۰</span><span class="z" style="letter-spacing:-0.075em">۰</span></div>
<div class="t" style="left:-311.00px;top:414.40px;width:400px;text-align:right;transform-origin:100% 0;font-size:9.40px;line-height:11.75px;font-weight:bold;color:#555;-webkit-text-stroke:0.24px #555;transform:scaleX(1.0815)"><span style="letter-spacing:-0.215em">۱</span><span style="letter-spacing:0.032em">۲</span><span style="letter-spacing:-0.019em">,</span><span class="z" style="letter-spacing:-0.075em">۰</span><span class="z" style="letter-spacing:-0.075em">۰</span><span class="z" style="letter-spacing:-0.075em">۰</span><span style="letter-spacing:-0.019em">,</span><span class="z" style="letter-spacing:-0.075em">۰</span><span class="z" style="letter-spacing:-0.075em">۰</span><span class="z" style="letter-spacing:-0.075em">۰</span></div>
<div class="t" style="left:-311.00px;top:451.20px;width:400px;text-align:right;transform-origin:100% 0;font-size:9.40px;line-height:11.75px;font-weight:bold;color:#555;-webkit-text-stroke:0.24px #555;transform:scaleX(1.0815)"><span style="letter-spacing:-0.215em">۱</span><span style="letter-spacing:-0.215em">۱</span><span style="letter-spacing:-0.019em">,</span><span style="letter-spacing:-0.015em">۹</span><span class="z" style="letter-spacing:-0.075em">۰</span><span class="z" style="letter-spacing:-0.075em">۰</span><span style="letter-spacing:-0.019em">,</span><span class="z" style="letter-spacing:-0.075em">۰</span><span class="z" style="letter-spacing:-0.075em">۰</span><span class="z" style="letter-spacing:-0.075em">۰</span></div>
<div class="a" style="left:-188.8px;top:474.5px;width:300px;text-align:right;white-space:nowrap;font-size:10.2px;line-height:12px;font-weight:bold;color:#595959;transform-origin:100% 10px;transform:rotate(-37deg)"><span style="letter-spacing:-0.215em">۱</span><span style="letter-spacing:0.082em">۴</span><span class="z" style="letter-spacing:-0.075em">۰</span><span class="z" style="letter-spacing:-0.075em">۰</span><span style="letter-spacing:0.113em">/</span><span style="letter-spacing:-0.215em">۱</span><span style="letter-spacing:-0.215em">۱</span><span style="letter-spacing:0.113em">/</span><span style="letter-spacing:-0.215em">۱</span><span style="letter-spacing:0.032em">۲</span></div>
<div class="a" style="left:-138.6px;top:474.5px;width:300px;text-align:right;white-space:nowrap;font-size:10.2px;line-height:12px;font-weight:bold;color:#595959;transform-origin:100% 10px;transform:rotate(-37deg)"><span style="letter-spacing:-0.215em">۱</span><span style="letter-spacing:0.082em">۴</span><span class="z" style="letter-spacing:-0.075em">۰</span><span class="z" style="letter-spacing:-0.075em">۰</span><span style="letter-spacing:0.113em">/</span><span style="letter-spacing:-0.215em">۱</span><span style="letter-spacing:-0.215em">۱</span><span style="letter-spacing:0.113em">/</span><span style="letter-spacing:-0.215em">۱</span><span style="letter-spacing:0.175em">۳</span></div>
<div class="a" style="left:-88.3px;top:474.5px;width:300px;text-align:right;white-space:nowrap;font-size:10.2px;line-height:12px;font-weight:bold;color:#595959;transform-origin:100% 10px;transform:rotate(-37deg)"><span style="letter-spacing:-0.215em">۱</span><span style="letter-spacing:0.082em">۴</span><span class="z" style="letter-spacing:-0.075em">۰</span><span class="z" style="letter-spacing:-0.075em">۰</span><span style="letter-spacing:0.113em">/</span><span style="letter-spacing:-0.215em">۱</span><span style="letter-spacing:-0.215em">۱</span><span style="letter-spacing:0.113em">/</span><span style="letter-spacing:-0.215em">۱</span><span style="letter-spacing:-0.006em">۶</span></div>
<div class="a" style="left:-38.1px;top:474.5px;width:300px;text-align:right;white-space:nowrap;font-size:10.2px;line-height:12px;font-weight:bold;color:#595959;transform-origin:100% 10px;transform:rotate(-37deg)"><span style="letter-spacing:-0.215em">۱</span><span style="letter-spacing:0.082em">۴</span><span class="z" style="letter-spacing:-0.075em">۰</span><span class="z" style="letter-spacing:-0.075em">۰</span><span style="letter-spacing:0.113em">/</span><span style="letter-spacing:-0.215em">۱</span><span style="letter-spacing:-0.215em">۱</span><span style="letter-spacing:0.113em">/</span><span style="letter-spacing:-0.215em">۱</span><span style="letter-spacing:0.101em">۷</span></div>
<div class="a" style="left:12.2px;top:474.5px;width:300px;text-align:right;white-space:nowrap;font-size:10.2px;line-height:12px;font-weight:bold;color:#595959;transform-origin:100% 10px;transform:rotate(-37deg)"><span style="letter-spacing:-0.215em">۱</span><span style="letter-spacing:0.082em">۴</span><span class="z" style="letter-spacing:-0.075em">۰</span><span class="z" style="letter-spacing:-0.075em">۰</span><span style="letter-spacing:0.113em">/</span><span style="letter-spacing:-0.215em">۱</span><span style="letter-spacing:-0.215em">۱</span><span style="letter-spacing:0.113em">/</span><span style="letter-spacing:-0.215em">۱</span><span style="letter-spacing:0.101em">۸</span></div>
<div class="a" style="left:62.4px;top:474.5px;width:300px;text-align:right;white-space:nowrap;font-size:10.2px;line-height:12px;font-weight:bold;color:#595959;transform-origin:100% 10px;transform:rotate(-37deg)"><span style="letter-spacing:-0.215em">۱</span><span style="letter-spacing:0.082em">۴</span><span class="z" style="letter-spacing:-0.075em">۰</span><span class="z" style="letter-spacing:-0.075em">۰</span><span style="letter-spacing:0.113em">/</span><span style="letter-spacing:-0.215em">۱</span><span style="letter-spacing:-0.215em">۱</span><span style="letter-spacing:0.113em">/</span><span style="letter-spacing:-0.215em">۱</span><span style="letter-spacing:-0.015em">۹</span></div>
<div class="a" style="left:112.7px;top:474.5px;width:300px;text-align:right;white-space:nowrap;font-size:10.2px;line-height:12px;font-weight:bold;color:#595959;transform-origin:100% 10px;transform:rotate(-37deg)"><span style="letter-spacing:-0.215em">۱</span><span style="letter-spacing:0.082em">۴</span><span class="z" style="letter-spacing:-0.075em">۰</span><span class="z" style="letter-spacing:-0.075em">۰</span><span style="letter-spacing:0.113em">/</span><span style="letter-spacing:-0.215em">۱</span><span style="letter-spacing:-0.215em">۱</span><span style="letter-spacing:0.113em">/</span><span style="letter-spacing:0.032em">۲</span><span class="z" style="letter-spacing:-0.075em">۰</span></div>
<div class="a" style="left:162.9px;top:474.5px;width:300px;text-align:right;white-space:nowrap;font-size:10.2px;line-height:12px;font-weight:bold;color:#595959;transform-origin:100% 10px;transform:rotate(-37deg)"><span style="letter-spacing:-0.215em">۱</span><span style="letter-spacing:0.082em">۴</span><span class="z" style="letter-spacing:-0.075em">۰</span><span class="z" style="letter-spacing:-0.075em">۰</span><span style="letter-spacing:0.113em">/</span><span style="letter-spacing:-0.215em">۱</span><span style="letter-spacing:-0.215em">۱</span><span style="letter-spacing:0.113em">/</span><span style="letter-spacing:0.032em">۲</span><span style="letter-spacing:0.175em">۳</span></div>
<div class="a" style="left:213.2px;top:474.5px;width:300px;text-align:right;white-space:nowrap;font-size:10.2px;line-height:12px;font-weight:bold;color:#595959;transform-origin:100% 10px;transform:rotate(-37deg)"><span style="letter-spacing:-0.215em">۱</span><span style="letter-spacing:0.082em">۴</span><span class="z" style="letter-spacing:-0.075em">۰</span><span class="z" style="letter-spacing:-0.075em">۰</span><span style="letter-spacing:0.113em">/</span><span style="letter-spacing:-0.215em">۱</span><span style="letter-spacing:-0.215em">۱</span><span style="letter-spacing:0.113em">/</span><span style="letter-spacing:0.032em">۲</span><span style="letter-spacing:0.082em">۴</span></div>
<div class="a" style="left:263.5px;top:474.5px;width:300px;text-align:right;white-space:nowrap;font-size:10.2px;line-height:12px;font-weight:bold;color:#595959;transform-origin:100% 10px;transform:rotate(-37deg)"><span style="letter-spacing:-0.215em">۱</span><span style="letter-spacing:0.082em">۴</span><span class="z" style="letter-spacing:-0.075em">۰</span><span class="z" style="letter-spacing:-0.075em">۰</span><span style="letter-spacing:0.113em">/</span><span style="letter-spacing:-0.215em">۱</span><span style="letter-spacing:-0.215em">۱</span><span style="letter-spacing:0.113em">/</span><span style="letter-spacing:0.032em">۲</span><span style="letter-spacing:0.102em">۵</span></div>
<div class="a" style="left:313.7px;top:474.5px;width:300px;text-align:right;white-space:nowrap;font-size:10.2px;line-height:12px;font-weight:bold;color:#595959;transform-origin:100% 10px;transform:rotate(-37deg)"><span style="letter-spacing:-0.215em">۱</span><span style="letter-spacing:0.082em">۴</span><span class="z" style="letter-spacing:-0.075em">۰</span><span class="z" style="letter-spacing:-0.075em">۰</span><span style="letter-spacing:0.113em">/</span><span style="letter-spacing:-0.215em">۱</span><span style="letter-spacing:-0.215em">۱</span><span style="letter-spacing:0.113em">/</span><span style="letter-spacing:0.032em">۲</span><span style="letter-spacing:0.101em">۷</span></div>
<div class="a" style="left:364.0px;top:474.5px;width:300px;text-align:right;white-space:nowrap;font-size:10.2px;line-height:12px;font-weight:bold;color:#595959;transform-origin:100% 10px;transform:rotate(-37deg)"><span style="letter-spacing:-0.215em">۱</span><span style="letter-spacing:0.082em">۴</span><span class="z" style="letter-spacing:-0.075em">۰</span><span class="z" style="letter-spacing:-0.075em">۰</span><span style="letter-spacing:0.113em">/</span><span style="letter-spacing:-0.215em">۱</span><span style="letter-spacing:-0.215em">۱</span><span style="letter-spacing:0.113em">/</span><span style="letter-spacing:0.175em">۳</span><span class="z" style="letter-spacing:-0.075em">۰</span></div>
<div class="a" style="left:414.2px;top:474.5px;width:300px;text-align:right;white-space:nowrap;font-size:10.2px;line-height:12px;font-weight:bold;color:#595959;transform-origin:100% 10px;transform:rotate(-37deg)"><span style="letter-spacing:-0.215em">۱</span><span style="letter-spacing:0.082em">۴</span><span class="z" style="letter-spacing:-0.075em">۰</span><span class="z" style="letter-spacing:-0.075em">۰</span><span style="letter-spacing:0.113em">/</span><span style="letter-spacing:-0.215em">۱</span><span style="letter-spacing:0.032em">۲</span><span style="letter-spacing:0.113em">/</span><span class="z" style="letter-spacing:-0.075em">۰</span><span style="letter-spacing:-0.215em">۱</span></div>
<div class="a" style="left:464.5px;top:474.5px;width:300px;text-align:right;white-space:nowrap;font-size:10.2px;line-height:12px;font-weight:bold;color:#595959;transform-origin:100% 10px;transform:rotate(-37deg)"><span style="letter-spacing:-0.215em">۱</span><span style="letter-spacing:0.082em">۴</span><span class="z" style="letter-spacing:-0.075em">۰</span><span class="z" style="letter-spacing:-0.075em">۰</span><span style="letter-spacing:0.113em">/</span><span style="letter-spacing:-0.215em">۱</span><span style="letter-spacing:0.032em">۲</span><span style="letter-spacing:0.113em">/</span><span class="z" style="letter-spacing:-0.075em">۰</span><span style="letter-spacing:0.032em">۲</span></div>
</body></html>
